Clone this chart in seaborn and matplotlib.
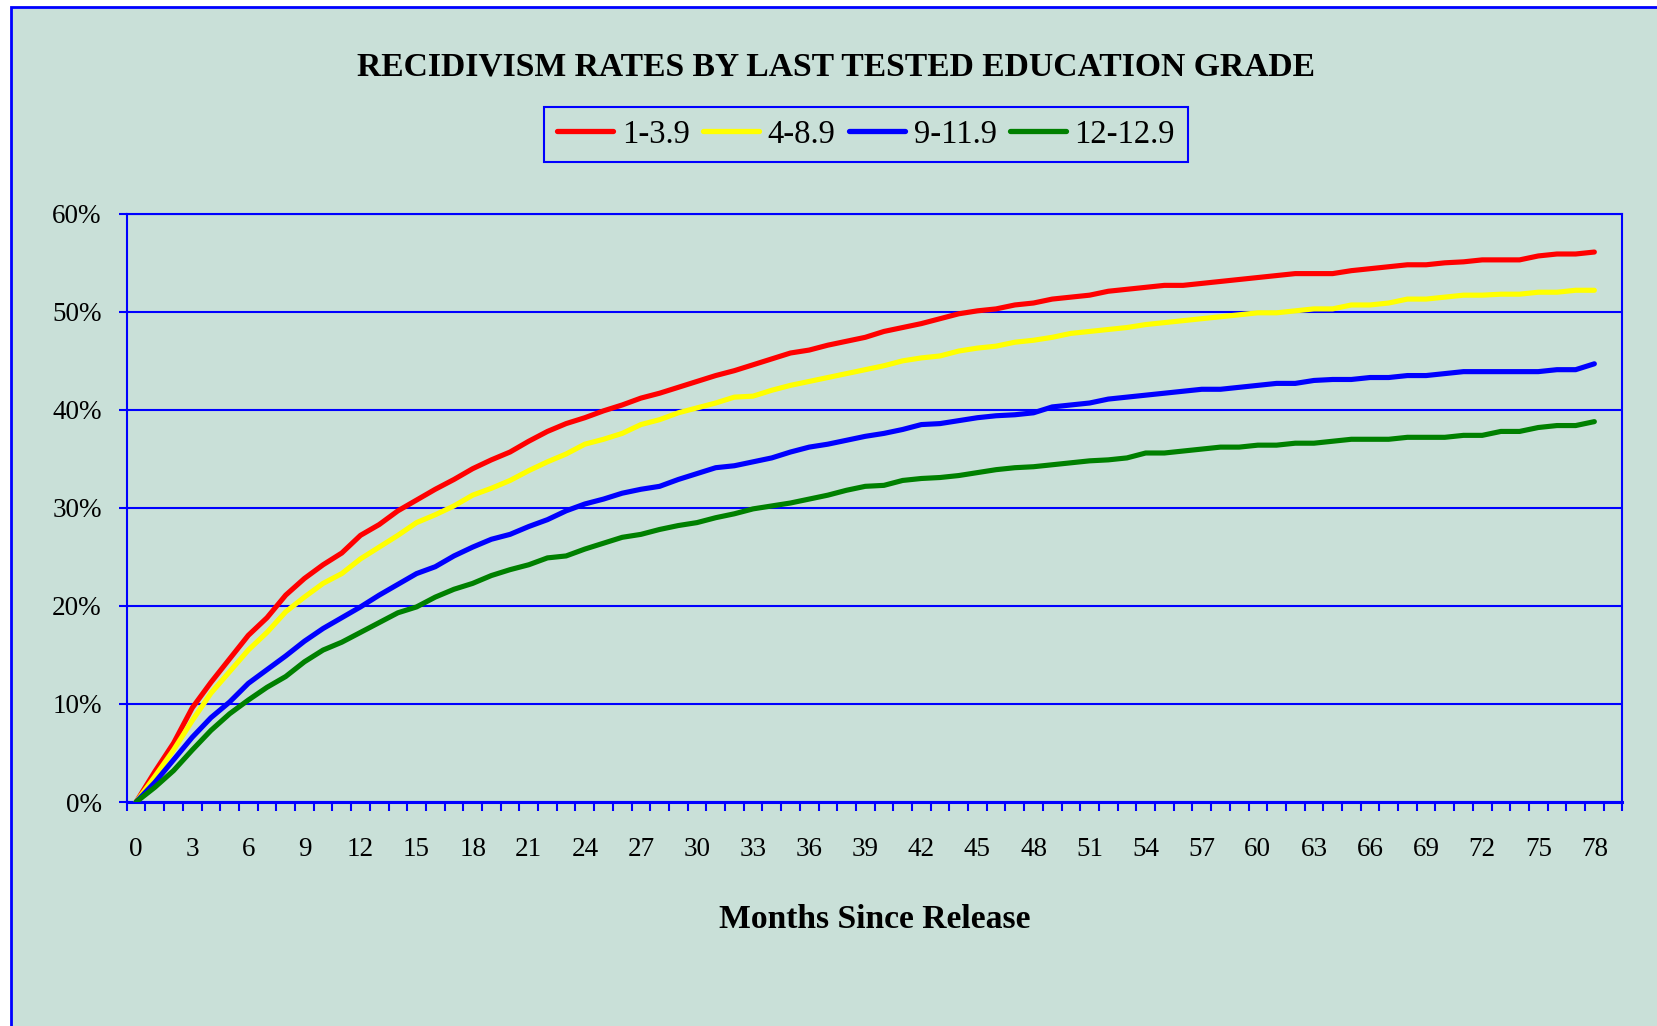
import numpy as np
import pandas as pd
import seaborn as sns
import matplotlib.pyplot as plt
from matplotlib.patches import Rectangle
from matplotlib.lines import Line2D

# recidivism rate (%) by month since release, months 0..78
months = list(range(79))
grades = ["1-3.9", "4-8.9", "9-11.9", "12-12.9"]
colors = ["#FF0000", "#FFFF00", "#0000FF", "#008000"]

rate_1_3 = [0, 3.1, 6.0, 9.6, 12.2, 14.6, 17.0, 18.8, 21.1, 22.8, 24.2, 25.4, 27.2, 28.3,
            29.7, 30.8, 31.9, 32.9, 34.0, 34.9, 35.7, 36.8, 37.8, 38.6, 39.2, 39.9, 40.5,
            41.2, 41.7, 42.3, 42.9, 43.5, 44.0, 44.6, 45.2, 45.8, 46.1, 46.6, 47.0, 47.4,
            48.0, 48.4, 48.8, 49.3, 49.8, 50.1, 50.3, 50.7, 50.9, 51.3, 51.5, 51.7, 52.1,
            52.3, 52.5, 52.7, 52.7, 52.9, 53.1, 53.3, 53.5, 53.7, 53.9, 53.9, 53.9, 54.2,
            54.4, 54.6, 54.8, 54.8, 55.0, 55.1, 55.3, 55.3, 55.3, 55.7, 55.9, 55.9, 56.1]
rate_4_8 = [0, 2.6, 5.3, 8.3, 11.1, 13.3, 15.5, 17.3, 19.4, 20.9, 22.3, 23.3, 24.8, 26.0,
            27.2, 28.5, 29.3, 30.2, 31.3, 32.0, 32.8, 33.8, 34.7, 35.5, 36.5, 37.0, 37.6,
            38.5, 39.0, 39.7, 40.2, 40.7, 41.3, 41.4, 42.0, 42.5, 42.9, 43.3, 43.7, 44.1,
            44.5, 45.0, 45.3, 45.5, 46.0, 46.3, 46.5, 46.9, 47.1, 47.4, 47.8, 48.0, 48.2,
            48.4, 48.7, 48.9, 49.1, 49.3, 49.5, 49.7, 49.9, 49.9, 50.1, 50.3, 50.3, 50.7,
            50.7, 50.9, 51.3, 51.3, 51.5, 51.7, 51.7, 51.8, 51.8, 52.0, 52.0, 52.2, 52.2]
rate_9_11 = [0, 2.0, 4.3, 6.6, 8.6, 10.2, 12.1, 13.5, 14.9, 16.4, 17.7, 18.8, 19.9, 21.1,
             22.2, 23.3, 24.0, 25.1, 26.0, 26.8, 27.3, 28.1, 28.8, 29.7, 30.4, 30.9, 31.5,
             31.9, 32.2, 32.9, 33.5, 34.1, 34.3, 34.7, 35.1, 35.7, 36.2, 36.5, 36.9, 37.3,
             37.6, 38.0, 38.5, 38.6, 38.9, 39.2, 39.4, 39.5, 39.7, 40.3, 40.5, 40.7, 41.1,
             41.3, 41.5, 41.7, 41.9, 42.1, 42.1, 42.3, 42.5, 42.7, 42.7, 43.0, 43.1, 43.1,
             43.3, 43.3, 43.5, 43.5, 43.7, 43.9, 43.9, 43.9, 43.9, 43.9, 44.1, 44.1, 44.7]
rate_12 = [0, 1.5, 3.2, 5.3, 7.3, 9.0, 10.4, 11.7, 12.8, 14.3, 15.5, 16.3, 17.3, 18.3,
           19.3, 19.9, 20.9, 21.7, 22.3, 23.1, 23.7, 24.2, 24.9, 25.1, 25.8, 26.4, 27.0,
           27.3, 27.8, 28.2, 28.5, 29.0, 29.4, 29.9, 30.2, 30.5, 30.9, 31.3, 31.8, 32.2,
           32.3, 32.8, 33.0, 33.1, 33.3, 33.6, 33.9, 34.1, 34.2, 34.4, 34.6, 34.8, 34.9,
           35.1, 35.6, 35.6, 35.8, 36.0, 36.2, 36.2, 36.4, 36.4, 36.6, 36.6, 36.8, 37.0,
           37.0, 37.0, 37.2, 37.2, 37.2, 37.4, 37.4, 37.8, 37.8, 38.2, 38.4, 38.4, 38.8]

BG = "#C9E0D8"
BLUE = "#0000FF"
W, H = 1658, 1026

df = pd.DataFrame({"month": months * 4,
                   "rate": rate_1_3 + rate_4_8 + rate_9_11 + rate_12,
                   "grade": sum([[g] * len(months) for g in grades], [])})

sns.set_style("white")
plt.rcParams["font.family"] = ["Liberation Serif", "DejaVu Serif"]
plt.rcParams["text.color"] = "black"
plt.rcParams["axes.labelcolor"] = "black"
plt.rcParams["xtick.labelcolor"] = "black"
plt.rcParams["ytick.labelcolor"] = "black"

fig = plt.figure(figsize=(W / 100, H / 100), dpi=100, facecolor="white")
# outer chart frame
fig.patches.append(Rectangle((11 / W, -0.05), 1.2, 1.05 - 7 / H, transform=fig.transFigure,
                             facecolor=BG, edgecolor=BLUE, lw=2, zorder=-10))

ax = fig.add_axes([126.8 / W, 1 - 802 / H, (1622.4 - 126.8) / W, (802 - 213.8) / H])
ax.set_facecolor(BG)

sns.lineplot(data=df, x="month", y="rate", hue="grade", hue_order=grades,
             palette=colors, linewidth=3.7, ax=ax, legend=False,
             solid_capstyle="round", solid_joinstyle="round", zorder=3)

ax.set_xlim(-0.5, 79.5)
ax.set_ylim(0, 60)
ax.set_yticks(range(0, 61, 10))
ax.set_yticklabels([f"{v}%" for v in range(0, 61, 10)])
ax.set_xticks(range(0, 79, 3))
ax.set_xticklabels([str(v) for v in range(0, 79, 3)])
ax.set_xticks(np.arange(-0.5, 80, 1), minor=True)

ax.yaxis.grid(True, color=BLUE, lw=1.5)
ax.xaxis.grid(False)
for s in ax.spines.values():
    s.set_color(BLUE)
    s.set_linewidth(1.5)
ax.spines["bottom"].set_linewidth(2.2)

ax.tick_params(axis="y", direction="out", length=6, width=1.5, color=BLUE,
               labelsize=19.5, pad=12, left=True, labelcolor="black")
ax.tick_params(axis="x", which="major", length=0, labelsize=19.5, pad=25,
               labelcolor="black")
ax.tick_params(axis="x", which="minor", direction="out", length=6.5, width=1.5,
               color=BLUE, bottom=True)

ax.set_xlabel("Months Since Release", fontsize=24.2, fontweight="bold", color="black")
ax.xaxis.set_label_coords(0.5, (802 - 928) / (802 - 213.8))
ax.xaxis.label.set_va("baseline")
ax.set_ylabel("")

fig.text(836 / W, 1 - 76 / H, "RECIDIVISM RATES BY LAST TESTED EDUCATION GRADE",
         ha="center", va="baseline", fontsize=24.2, fontweight="bold", color="black")

handles = [Line2D([], [], color=c, lw=3.8, solid_capstyle="round") for c in colors]
leg = ax.legend(handles, grades, ncol=4, loc="center", fontsize=23.5,
                bbox_to_anchor=(866 / W, 1 - 134.5 / H), bbox_transform=fig.transFigure,
                frameon=True, fancybox=False, framealpha=1, facecolor=BG,
                edgecolor=BLUE, handlelength=1.72, handletextpad=0.27,
                columnspacing=0.4, borderpad=0.38, borderaxespad=0)
leg.get_frame().set_linewidth(1.5)
for t in leg.get_texts():
    t.set_color("black")

fig.savefig("out.png", dpi=100, facecolor="white")
